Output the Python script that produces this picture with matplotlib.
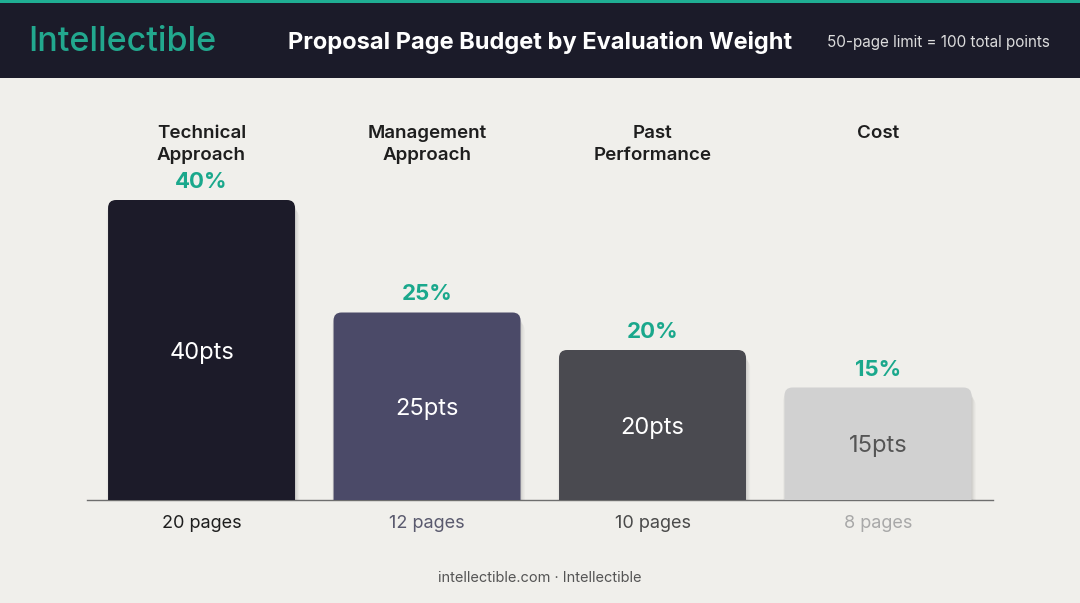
import matplotlib
matplotlib.use("Agg")
import matplotlib.pyplot as plt
from matplotlib.patches import FancyBboxPatch, Rectangle
import matplotlib.patheffects as pe

plt.rcParams['font.family'] = ['Inter', 'DejaVu Sans']

# ---- data ----
categories = ["Technical\nApproach", "Management\nApproach", "Past\nPerformance", "Cost"]
points = [40, 25, 20, 15]
weight_labels = ["40%", "25%", "20%", "15%"]
point_labels = ["40pts", "25pts", "20pts", "15pts"]
pages = [20, 12, 10, 8]

bar_colors = ["#1c1b29", "#4b4a68", "#4a4a50", "#d1d1d1"]
inner_text_colors = ["#ffffff", "#ffffff", "#ffffff", "#555555"]
page_text_colors = ["#1e1e1e", "#5a5a6e", "#4a4a4a", "#a8a8a8"]

BG = "#f0efeb"
HEADER = "#1b1b29"
TEAL = "#1aa88c"

W, H = 1080, 603
fig = plt.figure(figsize=(W / 100, H / 100), dpi=100, facecolor=BG)

# header band
fig.patches.append(Rectangle((0, 1 - 78 / H), 1, 78 / H, transform=fig.transFigure,
                             facecolor=HEADER, edgecolor="none", zorder=0))
fig.patches.append(Rectangle((0, 1 - 3 / H), 1, 3 / H, transform=fig.transFigure,
                             facecolor="#1fae93", edgecolor="none", zorder=1))

fig.text(28 / W, 1 - 42 / H, "Intellectible", color="#22a88e", fontsize=24.5,
         fontweight="medium", ha="left", va="center")
fig.text(540 / W, 1 - 42 / H, "Proposal Page Budget by Evaluation Weight", color="white",
         fontsize=17, fontweight="bold", ha="center", va="center")
fig.text(1050 / W, 1 - 42 / H, "50-page limit = 100 total points", color="#dcdcdc",
         fontsize=11, ha="right", va="center")
fig.text(540 / W, 1 - 578 / H, "intellectible.com · Intellectible", color="#555555",
         fontsize=10.5, ha="center", va="center")

# ---- axes ----
px_per_pt = 7.5
ax = fig.add_axes([87 / W, 1 - 500 / H, (993 - 87) / W, 420 / H])
ax.set_facecolor("none")
ax.set_xlim(-0.508, 3.51)
ax.set_ylim(0, 420 / px_per_pt)
ax.axis("off")

x = list(range(len(categories)))
bar_w = 187 / 225.5
bars = ax.bar(x, points, width=bar_w, color=bar_colors)

ax.axhline(0, color="#6e6e6e", lw=1.0, zorder=2, clip_on=False)

rx = 8 / 225.5
ry = 8 / px_per_pt
shadow = [pe.SimplePatchShadow(offset=o, shadow_rgbFace="#000000", alpha=a)
          for o, a in [((0, -1), 0.05), ((1, -3), 0.05), ((2, -5), 0.04), ((-1, -4), 0.03), ((3, -7), 0.03)]]
for b, c in zip(bars, bar_colors):
    b.set_visible(False)
    bx, by, bw, bh = b.get_x(), b.get_y(), b.get_width(), b.get_height()
    p = FancyBboxPatch((bx, by - 3), bw, bh + 3,
                       boxstyle=f"round,pad=0,rounding_size={rx}",
                       mutation_aspect=ry / rx, facecolor=c, edgecolor="none", zorder=3,
                       path_effects=shadow + [pe.Normal()])
    ax.add_patch(p)

for i in x:
    ax.text(i, 50.0, categories[i], ha="center", va="top", fontsize=13.5,
            fontweight="semibold", color="#1e1e1e", linespacing=1.4, zorder=5)
    ax.text(i, points[i] + 2.4, weight_labels[i], ha="center", va="center", fontsize=16,
            fontweight="bold", color=TEAL, zorder=5)
    ax.text(i, points[i] / 2 - 0.35, point_labels[i], ha="center", va="center", fontsize=17,
            color=inner_text_colors[i], zorder=5)
    ax.text(i, -23 / px_per_pt, f"{pages[i]} pages", ha="center", va="center", fontsize=13,
            color=page_text_colors[i], zorder=5)

fig.savefig("out.png", dpi=100, facecolor=BG)
